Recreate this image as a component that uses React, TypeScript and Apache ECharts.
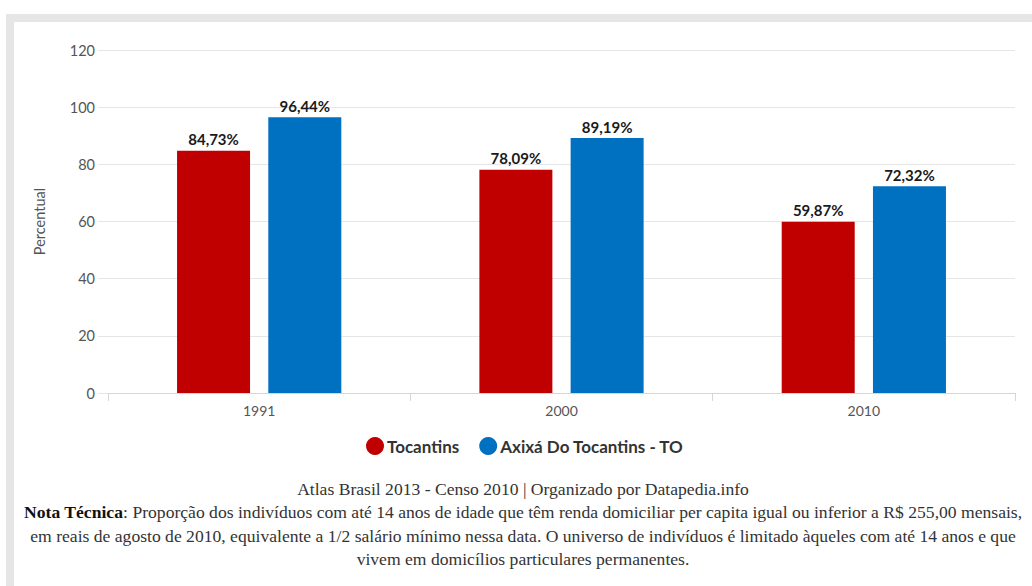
import React, { useEffect, useRef } from "react";
import * as echarts from "echarts";

const categories = ["1991", "2000", "2010"];
const tocantins = [84.73, 78.09, 59.87];
const axixa = [96.44, 89.19, 72.32];
const seriesNames = ["Tocantins", "Axixá Do Tocantins - TO"];
const yTicks = { min: 0, max: 120, interval: 20 };
const footerLines = [
  "Atlas Brasil 2013 - Censo 2010 | Organizado por Datapedia.info",
  "{b|Nota Técnica}: Proporção dos indivíduos com até 14 anos de idade que têm renda domiciliar per capita igual ou inferior a R$ 255,00 mensais,",
  "em reais de agosto de 2010, equivalente a 1/2 salário mínimo nessa data. O universo de indivíduos é limitado àqueles com até 14 anos e que",
  "vivem em domicílios particulares permanentes.",
];

const fmt = (v: number) => v.toFixed(2).replace(".", ",") + "%";

export default function App() {
  const ref = useRef<HTMLDivElement>(null);
  useEffect(() => {
    if (!ref.current) return;
    const chart = echarts.init(ref.current, undefined, { renderer: "svg" });
    const sans = "Lato, 'Noto Sans', sans-serif";
    const serif = "'Liberation Serif', 'DejaVu Serif', serif";
    const labelCfg = {
      show: true,
      position: "top" as const,
      distance: 4,
      formatter: (p: any) => fmt(p.value),
      color: "#1a1a1a",
      fontWeight: "bold" as const,
      fontSize: 15,
      fontFamily: sans,
    };
    chart.setOption({
      animation: false,
      backgroundColor: "#ffffff",
      grid: { left: 108, right: 17, top: 50, bottom: 193, containLabel: false },
      legend: {
        left: 366,
        top: 437,
        padding: 0,
        icon: "circle",
        itemWidth: 18,
        itemHeight: 18,
        itemGap: 20,
        textStyle: { fontFamily: sans, fontWeight: "bold", fontSize: 17, color: "#333333", padding: [0, 0, 0, -2] },
        data: seriesNames,
      },
      xAxis: {
        type: "category",
        data: categories,
        axisLine: { lineStyle: { color: "#d6d6d6" } },
        axisTick: { show: true, length: 8, lineStyle: { color: "#d6d6d6" } },
        axisLabel: { margin: 10, fontSize: 14, color: "#555555", fontFamily: sans },
      },
      yAxis: {
        type: "value",
        min: yTicks.min,
        max: yTicks.max,
        interval: yTicks.interval,
        name: "Percentual",
        nameLocation: "middle",
        nameGap: 61,
        nameTextStyle: { fontSize: 14.5, color: "#555555", fontFamily: sans },
        axisLine: { show: false },
        axisTick: { show: true, length: 10, lineStyle: { color: "#e6e6e6" } },
        axisLabel: { margin: 13, fontSize: 14.5, color: "#555555", fontFamily: sans },
        splitLine: { lineStyle: { color: "#e6e6e6" } },
      },
      series: [
        {
          name: seriesNames[0],
          type: "bar",
          data: tocantins,
          barWidth: 73,
          barGap: "25%",
          itemStyle: { color: "#c00000" },
          label: labelCfg,
        },
        {
          name: seriesNames[1],
          type: "bar",
          data: axixa,
          barWidth: 73,
          barGap: "25%",
          itemStyle: { color: "#0070c0" },
          label: labelCfg,
        },
      ],
      graphic: [
        { type: "rect", shape: { x: 6, y: 14, width: 1026, height: 8 }, style: { fill: "#e6e6e6" }, silent: true },
        { type: "rect", shape: { x: 6, y: 14, width: 8, height: 572 }, style: { fill: "#e6e6e6" }, silent: true },
        ...footerLines.map((t, i) => ({
          type: "text",
          x: 523,
          y: 489 + i * 23.4,
          style: {
            text: t,
            x: 0,
            y: 0,
            align: "center",
            verticalAlign: "middle",
            fontFamily: serif,
            fontSize: 17.6,
            fill: "#333333",
            rich: { b: { fontWeight: "bold", fontFamily: serif, fontSize: 17.6, fill: "#111111" } },
          },
          silent: true,
        })),
      ],
    });
    return () => chart.dispose();
  }, []);
  return (
    <div
      ref={ref}
      style={{ position: "fixed", left: 0, top: 0, width: 1032, height: 586, background: "#fff" }}
    />
  );
}
